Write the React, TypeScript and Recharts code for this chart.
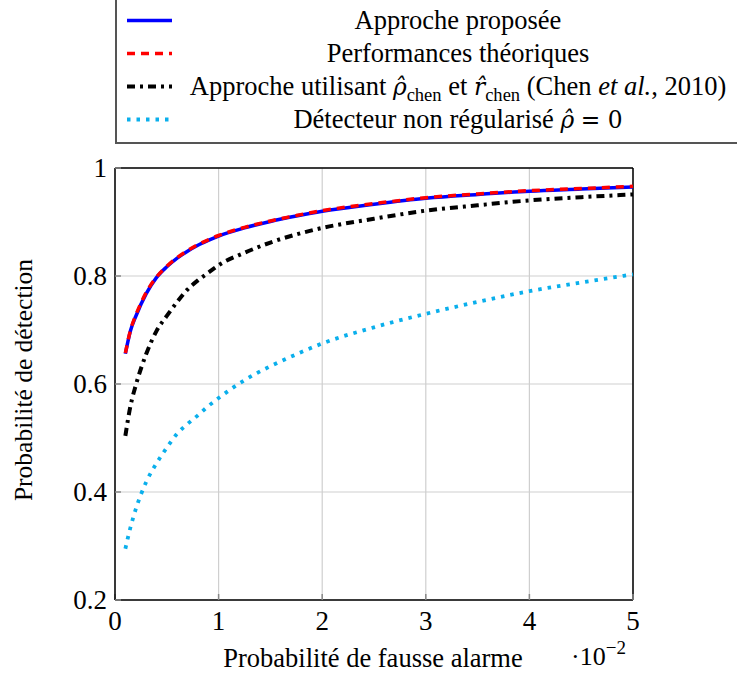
import React from 'react';
import { LineChart, Line, XAxis, YAxis, CartesianGrid, ReferenceLine } from 'recharts';

const pfa = [0.1, 0.15, 0.2, 0.3, 0.4, 0.5, 0.6, 0.7, 0.8, 0.9, 1.0, 1.25, 1.5, 1.75, 2.0, 2.5, 3.0, 3.5, 4.0, 4.5, 5.0];
const proposed = [0.656, 0.699, 0.725, 0.767, 0.797, 0.817, 0.833, 0.846, 0.857, 0.866, 0.874, 0.889, 0.901, 0.911, 0.92, 0.933, 0.944, 0.951, 0.957, 0.961, 0.965];
const theory = [0.657, 0.7, 0.727, 0.769, 0.798, 0.818, 0.834, 0.847, 0.858, 0.867, 0.875, 0.89, 0.902, 0.912, 0.921, 0.934, 0.945, 0.952, 0.958, 0.962, 0.966];
const chen = [0.504, 0.56, 0.597, 0.655, 0.698, 0.726, 0.752, 0.775, 0.792, 0.806, 0.82, 0.843, 0.862, 0.877, 0.889, 0.906, 0.921, 0.931, 0.94, 0.946, 0.951];
const unreg = [0.295, 0.335, 0.368, 0.418, 0.453, 0.482, 0.508, 0.526, 0.542, 0.559, 0.574, 0.607, 0.633, 0.655, 0.675, 0.705, 0.73, 0.752, 0.772, 0.788, 0.803];

const xTicks = [0, 1, 2, 3, 4, 5];
const yTicks = [0.2, 0.4, 0.6, 0.8, 1];
const xTickLabels = ['0', '1', '2', '3', '4', '5'];
const yTickLabels = ['0.2', '0.4', '0.6', '0.8', '1'];

const data = pfa.map((x, i) => ({
  x,
  proposed: proposed[i],
  theory: theory[i],
  chen: chen[i],
  unreg: unreg[i],
}));

const FONT = "'Liberation Serif', 'Times New Roman', serif";
const MATH = "'DejaVu Serif', serif";

const series = [
  { key: 'proposed', color: '#0000ff', dash: undefined as string | undefined, width: 3.5 },
  { key: 'theory', color: '#ff0000', dash: '8 6', width: 3.5 },
  { key: 'chen', color: '#000000', dash: '8 5 3 5', width: 4 },
  { key: 'unreg', color: '#0aafec', dash: '3.5 6', width: 3.8 },
];

const sub: React.CSSProperties = { fontSize: '0.7em', verticalAlign: '-0.3em' };
const rho: React.CSSProperties = { fontFamily: MATH, fontStyle: 'italic', fontSize: '0.88em' };

const legendLabels: React.ReactNode[] = [
  <span>Approche proposée</span>,
  <span>Performances théoriques</span>,
  <span>
    Approche utilisant <span style={rho}>ρ̂</span>
    <span style={sub}>chen</span> et <span style={rho}>r̂</span>
    <span style={sub}>chen</span> (Chen <i>et al.</i>, 2010)
  </span>,
  <span>
    Détecteur non régularisé <span style={rho}>ρ̂</span> <span style={{ fontFamily: MATH, fontSize: '0.88em' }}>= 0</span>
  </span>,
];

function LegendBox() {
  return (
    <div
      style={{
        position: 'absolute',
        left: 115,
        top: -10,
        width: 700,
        height: 150,
        border: '2px solid #555',
        background: '#fff',
        fontFamily: FONT,
        fontSize: 26.5,
        color: '#000',
      }}
    >
      {series.map((s, i) => (
        <div key={s.key} style={{ position: 'absolute', left: 0, top: 11.5 + i * 33, height: 33, width: 700 }}>
          <svg width={60} height={33} style={{ position: 'absolute', left: 0, top: 0 }}>
            <line x1={10} x2={55} y1={16.5} y2={16.5} stroke={s.color} strokeWidth={s.width} strokeDasharray={s.dash} />
          </svg>
          <div
            style={{
              position: 'absolute',
              left: 60,
              width: 562,
              top: 0,
              height: 33,
              lineHeight: '33px',
              textAlign: 'center',
              whiteSpace: 'nowrap',
            }}
          >
            {legendLabels[i]}
          </div>
        </div>
      ))}
    </div>
  );
}

const XTick = (props: any) => {
  const idx = xTicks.indexOf(props.payload.value);
  return (
    <text x={props.x} y={props.y} dy="0.72em" textAnchor="middle" fontFamily={FONT} fontSize={27} fill="#000">
      {idx >= 0 ? xTickLabels[idx] : props.payload.value}
    </text>
  );
};

const YTick = (props: any) => {
  const idx = yTicks.indexOf(props.payload.value);
  return (
    <text x={props.x} y={props.y} dy="0.34em" textAnchor="end" fontFamily={FONT} fontSize={27} fill="#000">
      {idx >= 0 ? yTickLabels[idx] : props.payload.value}
    </text>
  );
};

export default function App() {
  return (
    <div style={{ position: 'absolute', left: 0, top: 0, width: 737, height: 674, background: '#fff', overflow: 'hidden' }}>
      <LineChart width={737} height={674} data={data} margin={{ top: 168, right: 104, bottom: 0, left: 0 }}>
        <CartesianGrid stroke="#cfcfcf" strokeWidth={1.2} />
        <XAxis
          dataKey="x"
          type="number"
          domain={[0, 5]}
          ticks={xTicks}
          height={74}
          stroke="#000"
          strokeWidth={1.5}
          tickSize={-6}
          tickMargin={17}
          tickLine={{ stroke: '#888' }}
          tick={XTick}
          label={() => (
            <g>
              <text x={373} y={667} textAnchor="middle" fontFamily={FONT} fontSize={26.5} fill="#000">
                Probabilité de fausse alarme
              </text>
              <text x={571} y={665} fontFamily={FONT} fontSize={26} fill="#000">
                ·10
                <tspan dy={-11} fontSize={19}>−2</tspan>
              </text>
            </g>
          )}
        />
        <YAxis
          type="number"
          domain={[0.2, 1]}
          ticks={yTicks}
          width={115}
          stroke="#000"
          strokeWidth={1.5}
          tickSize={-6}
          tickMargin={14}
          tickLine={{ stroke: '#888' }}
          tick={YTick}
          label={() => (
            <text
              x={23}
              y={380}
              transform="rotate(-90 23 380)"
              textAnchor="middle"
              dominantBaseline="central"
              fontFamily={FONT}
              fontSize={25.5}
              fill="#000"
            >
              Probabilité de détection
            </text>
          )}
        />
        <ReferenceLine y={1} stroke="#000" strokeWidth={1.5} />
        <ReferenceLine x={5} stroke="#000" strokeWidth={1.5} />
        {series.map((s) => (
          <Line
            key={s.key}
            dataKey={s.key}
            type="monotone"
            stroke={s.color}
            strokeWidth={s.width}
            strokeDasharray={s.dash}
            dot={false}
            activeDot={false}
            isAnimationActive={false}
          />
        ))}
      </LineChart>
      <LegendBox />
    </div>
  );
}
